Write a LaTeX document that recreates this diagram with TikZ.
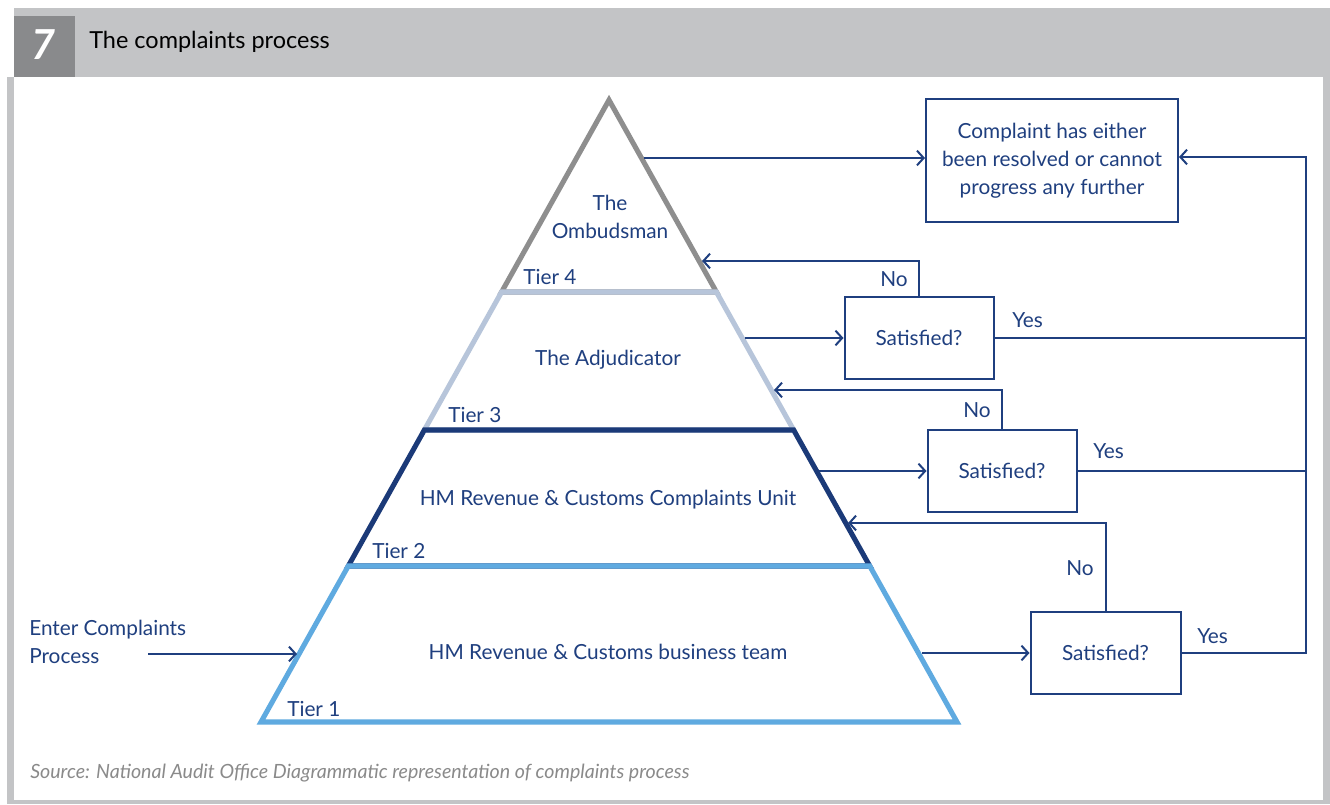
\documentclass[tikz,border=0pt]{standalone}
\usepackage{fontspec}
\setmainfont{Lato}
\usetikzlibrary{arrows.meta,calc}
\definecolor{navy}{HTML}{1F3F7F}
\definecolor{tierfour}{HTML}{8E8E8E}
\definecolor{tierthree}{HTML}{B7C5DA}
\definecolor{tiertwo}{HTML}{1B3A78}
\definecolor{tierone}{HTML}{5FAAE0}
\definecolor{framegrey}{HTML}{C3C4C6}
\definecolor{numgrey}{HTML}{898A8C}
\definecolor{srcgrey}{HTML}{8A8A8A}
\begin{document}
\begin{tikzpicture}[x=0.75pt,y=-0.75pt,
  txt/.style={text=navy, font=\fontsize{15.6}{21}\selectfont, inner sep=0pt, align=center},
  lbl/.style={txt, anchor=west},
  box/.style={draw=navy, line width=1.5pt, rectangle, inner sep=0pt, align=center,
    text=navy, font=\fontsize{15.6}{21}\selectfont},
  flow/.style={draw=navy, line width=1.5pt},
  arr/.style={flow, -{Straight Barb[length=5pt,width=11pt,line width=1.5pt]}},
  tier/.style={line width=3.8pt, line join=miter}]
\useasboundingbox (0,0) rectangle (1330,805);
% frame and header band
\fill[framegrey] (7,8) rectangle (1330,804);
\fill[white] (0,0) rectangle (14,77);
\fill[white] (14,77) rectangle (1323,800);
\fill[numgrey] (14,16) rectangle (75,77);
\node[text=white, font=\fontsize{31}{34}\selectfont\bfseries\itshape, inner sep=0pt] (num) at (43,45) {7};
\node[anchor=west, font=\fontsize{17.6}{22}\selectfont, inner sep=0pt] (title) at (89,42) {The complaints process};

% pyramid corners
\coordinate (apex) at (609,100);
\coordinate (bl) at (261,722);
\coordinate (br) at (957,722);
\coordinate (L4) at ($(apex)!0.3087!(bl)$);
\coordinate (R4) at ($(apex)!0.3087!(br)$);
\coordinate (L3) at ($(apex)!0.5305!(bl)$);
\coordinate (R3) at ($(apex)!0.5305!(br)$);
\coordinate (L2) at ($(apex)!0.7492!(bl)$);
\coordinate (R2) at ($(apex)!0.7492!(br)$);

% tiers, top to bottom
\draw[tier, tierfour] (apex) -- (L4) -- (R4) -- cycle;
\draw[tier, tierthree] (L4) -- (L3) -- (R3) -- (R4) -- cycle;
\draw[tier, tiertwo] (L3) -- (L2) -- (R2) -- (R3) -- cycle;
\draw[tier, tierone] (L2) -- (bl) -- (br) -- (R2) -- cycle;

% tier texts
\node[txt] (t4) at (610,217) {The\\Ombudsman};
\node[txt] (t3) at (608,360) {The Adjudicator};
\node[txt] (t2) at (608,500) {HM Revenue \& Customs Complaints Unit};
\node[txt] (t1) at (608,652) {HM Revenue \& Customs business team};
\node[lbl] (tier4) at (523,277) {Tier 4};
\node[lbl] (tier3) at (448,415) {Tier 3};
\node[lbl] (tier2) at (372,551) {Tier 2};
\node[lbl] (tier1) at (287,709) {Tier 1};

% decision boxes
\node[box, minimum width=189pt, minimum height=92.25pt] (done) at (1052,160.5)
  {Complaint has either\\been resolved or cannot\\progress any further};
\node[box, minimum width=111.75pt, minimum height=61.5pt] (sat1) at (919,338) {Satisfied?};
\node[box, minimum width=111.75pt, minimum height=61.5pt] (sat2) at (1002,471) {Satisfied?};
\node[box, minimum width=112.5pt, minimum height=61.5pt] (sat3) at (1105.5,653) {Satisfied?};

% points on the right side of the pyramid
\coordinate (o4) at (644,158);
\coordinate (n4) at (702,261);
\coordinate (o3) at (745,338);
\coordinate (n3) at (774,390);
\coordinate (o2) at (819,471);
\coordinate (n2) at (848,523);
\coordinate (o1) at (922,653);
% entry point on the left side
\coordinate (entry) at (148,654);
\coordinate (in1) at (297,654);
\coordinate (rail) at (1306,157);

% entry
\node[txt, anchor=north west, align=left] (enter) at (29,620) {Enter Complaints\\Process};
\draw[arr] (entry) -- (in1);

% outgoing arrows
\draw[arr] (o4) -- (o4 -| done.west);
\draw[arr] (o3) -- (sat1.west);
\draw[arr] (o2) -- (sat2.west);
\draw[arr] (o1) -- (sat3.west);

% No loops back to the next tier
\draw[arr] (sat1.north) |- (n4);
\draw[arr] (sat2.north) |- (n3);
\draw[arr] (sat3.north) |- (n2);

% Yes lines to the rail
\draw[flow] (sat1.east) -- (sat1.east -| rail);
\draw[flow] (sat2.east) -- (sat2.east -| rail);
\draw[arr] (sat3.east) -| (rail) -- (rail -| done.east);

% labels
\node[txt, anchor=east] (no1) at (908,279) {No};
\node[txt, anchor=east] (no2) at (991,410) {No};
\node[txt, anchor=east] (no3) at (1094,568) {No};
\node[lbl] (yes1) at (1012,320) {Yes};
\node[lbl] (yes2) at (1093,451) {Yes};
\node[lbl] (yes3) at (1197,636) {Yes};

% source line
\node[anchor=west, inner sep=0pt, text=srcgrey, font=\fontsize{14.7}{17}\selectfont\itshape] (src) at (30,773)
  {Source: National Audit Office Diagrammatic representation of complaints process};
\end{tikzpicture}
\end{document}
